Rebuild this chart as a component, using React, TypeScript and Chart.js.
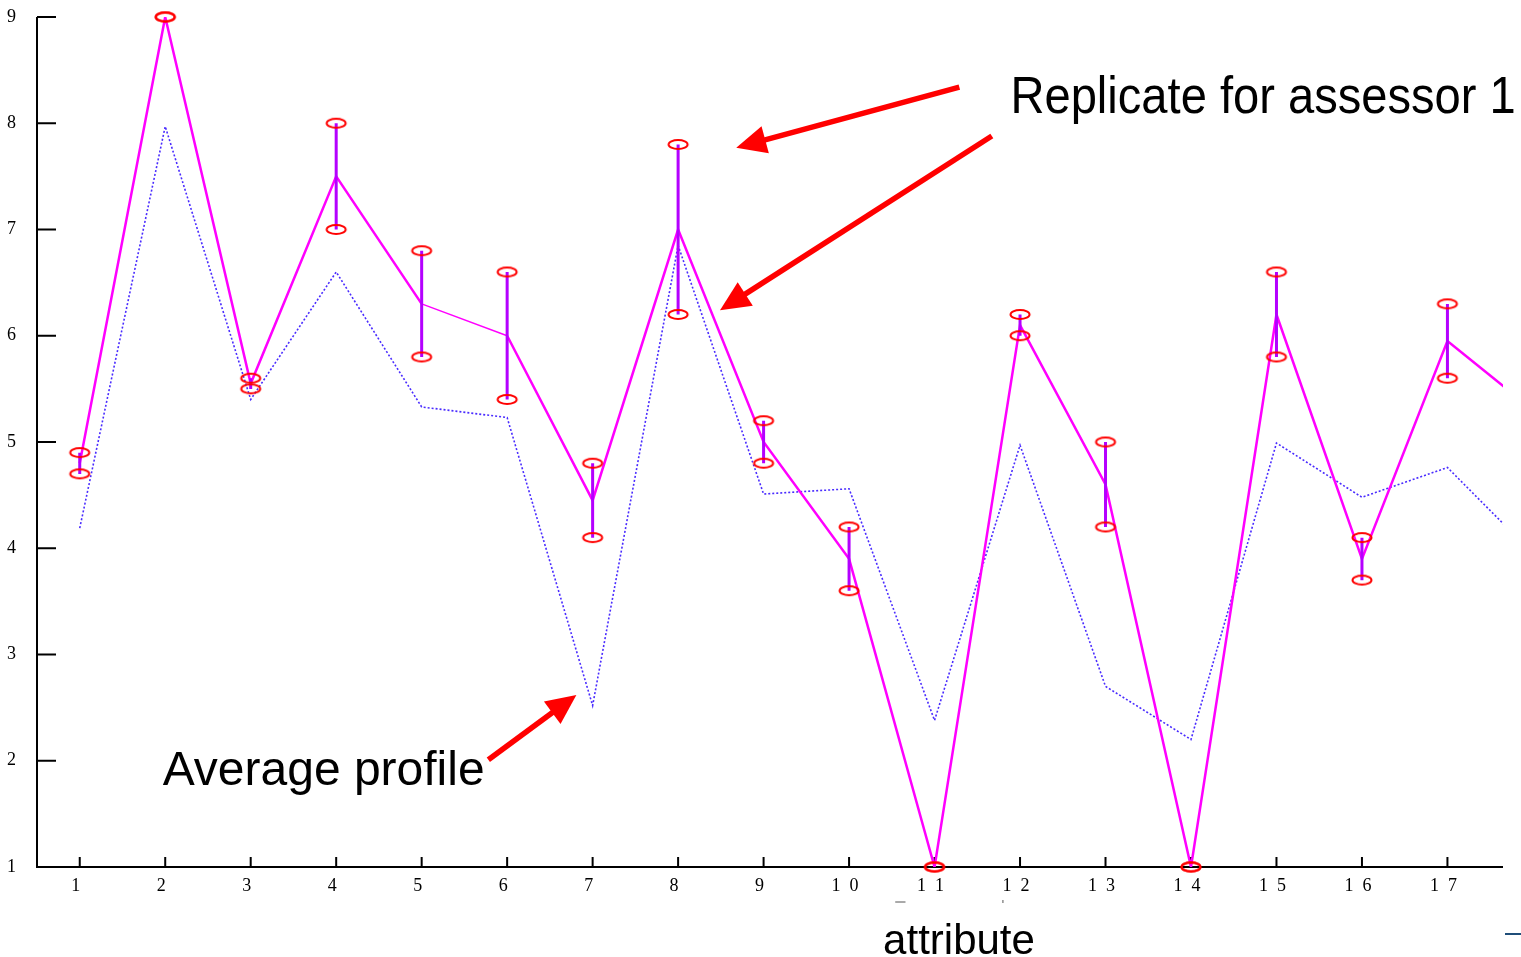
import React, { useEffect, useRef } from "react";
import { Chart, registerables } from "chart.js";

Chart.register(...registerables);

// ---- data ----
const attributes = [1, 2, 3, 4, 5, 6, 7, 8, 9, 10, 11, 12, 13, 14, 15, 16, 17];
const tickLabels = ["1", "2", "3", "4", "5", "6", "7", "8", "9", "1  0", "1  1", "1  2", "1  3", "1  4", "1  5", "1  6", "1  7"];
const yTickValues = [1, 2, 3, 4, 5, 6, 7, 8, 9];
// profile lines continue to an 18th attribute that lies beyond the visible right edge
const lineX = [1, 2, 3, 4, 5, 6, 7, 8, 9, 10, 11, 12, 13, 14, 15, 16, 17, 18];
const assessorMean = [4.8, 9, 5.55, 7.5, 6.3, 6.0, 4.45, 7.0, 5.0, 3.9, 1, 6.1, 4.6, 1, 6.2, 3.9, 5.95, 5.3];
const averageProfile = [4.19, 7.97, 5.4, 6.6, 5.33, 5.23, 2.52, 6.85, 4.51, 4.56, 2.38, 4.97, 2.7, 2.2, 4.99, 4.48, 4.76, 3.95];
const replicateHigh = [4.9, 9, 5.6, 8.0, 6.8, 6.6, 4.8, 7.8, 5.2, 4.2, 1, 6.2, 5.0, 1, 6.6, 4.1, 6.3];
const replicateLow = [4.7, 9, 5.5, 7.0, 5.8, 5.4, 4.1, 6.2, 4.8, 3.6, 1, 6.0, 4.2, 1, 5.8, 3.7, 5.6];
const xRange = [0.5, 17.65];
const yRange = [1, 9];

// annotation anchors in data coordinates: [tailX, tailY, tipX, tipY]
const arrowAnchors = [
  [11.29, 8.34, 8.68, 7.77],
  [11.67, 7.88, 8.49, 6.24],
  [5.78, 2.01, 6.81, 2.62],
];
const replicateLabel = { text: "Replicate for assessor 1", x: 11.93, y: 8.1 };
const averageLabel = { text: "Average profile", x: 1.97, y: 1.77 };
const axisTitle = { text: "attribute", x: 10.41 };

function makeEllipse(): HTMLCanvasElement {
  const c = document.createElement("canvas");
  c.width = 24;
  c.height = 13;
  const g = c.getContext("2d")!;
  g.strokeStyle = "#ff0000";
  g.lineWidth = 2;
  g.beginPath();
  g.ellipse(12, 6.5, 9.5, 4.5, 0, 0, Math.PI * 2);
  g.stroke();
  return c;
}

function drawArrow(ctx: CanvasRenderingContext2D, x1: number, y1: number, x2: number, y2: number) {
  const a = Math.atan2(y2 - y1, x2 - x1);
  const hl = 30;
  const hw = 14;
  const c = Math.cos(a);
  const s = Math.sin(a);
  const bx = x2 - hl * c;
  const by = y2 - hl * s;
  ctx.strokeStyle = "#ff0000";
  ctx.fillStyle = "#ff0000";
  ctx.lineWidth = 5.5;
  ctx.lineCap = "butt";
  ctx.beginPath();
  ctx.moveTo(x1, y1);
  ctx.lineTo(bx + 2 * c, by + 2 * s);
  ctx.stroke();
  ctx.beginPath();
  ctx.moveTo(x2, y2);
  ctx.lineTo(bx - hw * s, by + hw * c);
  ctx.lineTo(bx + hw * s, by - hw * c);
  ctx.closePath();
  ctx.fill();
}

function drawText(ctx: CanvasRenderingContext2D, text: string, size: number, inkLeft: number, baseline: number, inkWidth?: number) {
  ctx.save();
  ctx.font = `${size}px "Liberation Sans", Arial, Helvetica, sans-serif`;
  ctx.fillStyle = "#000";
  ctx.textAlign = "left";
  ctx.textBaseline = "alphabetic";
  const m = ctx.measureText(text);
  const w = m.actualBoundingBoxLeft + m.actualBoundingBoxRight;
  const sc = inkWidth ? inkWidth / w : 1;
  ctx.translate(inkLeft, baseline);
  ctx.scale(sc, 1);
  ctx.fillText(text, m.actualBoundingBoxLeft, 0);
  ctx.restore();
}

const overlayPlugin = {
  id: "overlay",
  beforeDatasetsDraw(chart: any) {
    const { ctx, chartArea, scales } = chart;
    const { left, right, top, bottom } = chartArea;
    ctx.save();
    ctx.strokeStyle = "#000";
    ctx.lineWidth = 2;
    ctx.lineCap = "butt";
    ctx.beginPath();
    ctx.moveTo(left, top);
    ctx.lineTo(left, bottom);
    ctx.lineTo(right, bottom);
    ctx.stroke();
    ctx.beginPath();
    for (const v of yTickValues) {
      const py = scales.y.getPixelForValue(v);
      ctx.moveTo(left, py);
      ctx.lineTo(left + 19, py);
    }
    for (const v of attributes) {
      const px = scales.x.getPixelForValue(v);
      ctx.moveTo(px, bottom);
      ctx.lineTo(px, bottom - 10);
    }
    ctx.stroke();
    ctx.restore();
  },
  afterDraw(chart: any) {
    const { ctx, scales, width, height } = chart;
    const X = (v: number) => scales.x.getPixelForValue(v);
    const Y = (v: number) => scales.y.getPixelForValue(v);
    ctx.save();
    for (const [tx, ty, hx, hy] of arrowAnchors) {
      drawArrow(ctx, X(tx), Y(ty), X(hx), Y(hy));
    }
    ctx.restore();
    drawText(ctx, replicateLabel.text, 52, X(replicateLabel.x), Y(replicateLabel.y), 500);
    drawText(ctx, averageLabel.text, 48, X(averageLabel.x), Y(averageLabel.y));
    drawText(ctx, axisTitle.text, 42, X(axisTitle.x), height - 3);
    // small decorative remnants
    ctx.save();
    ctx.strokeStyle = "#1f4e79";
    ctx.lineWidth = 2;
    ctx.beginPath();
    ctx.moveTo(width - 16, 934);
    ctx.lineTo(width, 934);
    ctx.stroke();
    ctx.strokeStyle = "#555";
    ctx.lineWidth = 1;
    ctx.beginPath();
    ctx.moveTo(X(10.54), 902);
    ctx.lineTo(X(10.66), 902);
    ctx.moveTo(X(11.8), 900);
    ctx.lineTo(X(11.8), 903);
    ctx.stroke();
    ctx.restore();
  },
};

export default function App() {
  const ref = useRef<HTMLCanvasElement>(null);

  useEffect(() => {
    document.body.style.margin = "0";
    const canvas = ref.current;
    if (!canvas) return;

    const ellipse = makeEllipse();
    const circlePts = [
      ...attributes.map((x, i) => ({ x, y: replicateHigh[i] })),
      ...attributes.map((x, i) => ({ x, y: replicateLow[i] })),
    ];
    const rangePts: { x: number; y: number | null }[] = [];
    attributes.forEach((x, i) => {
      rangePts.push({ x, y: replicateHigh[i] });
      rangePts.push({ x, y: replicateLow[i] });
      rangePts.push({ x, y: null });
    });
    const meanPts = lineX.map((x, i) => ({ x, y: assessorMean[i] }));
    const avgPts = lineX.map((x, i) => ({ x, y: averageProfile[i] }));

    const serif = '"Liberation Serif", "Times New Roman", Times, serif';

    const chart = new Chart(canvas, {
      type: "line",
      data: {
        datasets: [
          {
            label: "Replicates",
            data: circlePts,
            showLine: false,
            pointStyle: ellipse as any,
            pointRadius: 6,
            pointHoverRadius: 6,
            clip: false as any,
          },
          {
            label: "Replicate range",
            data: rangePts as any,
            borderColor: "#b400ff",
            borderWidth: 3,
            pointRadius: 0,
            spanGaps: false,
            borderCapStyle: "butt",
          },
          {
            label: "Assessor 1",
            data: meanPts,
            borderColor: "#ff00ff",
            borderWidth: 2.5,
            pointRadius: 0,
            tension: 0,
            segment: {
              borderWidth: (c: any) => (c.p0DataIndex === 4 ? 1.4 : 2.5),
            },
          },
          {
            label: "Average profile",
            data: avgPts,
            borderColor: "#4a2cff",
            borderWidth: 1.6,
            borderDash: [2, 2],
            pointRadius: 0,
            tension: 0,
          },
        ],
      },
      options: {
        animation: false,
        responsive: false,
        devicePixelRatio: 1,
        events: [],
        layout: { autoPadding: false, padding: { top: 17, right: 18, left: 0, bottom: 0 } },
        plugins: { legend: { display: false }, tooltip: { enabled: false } },
        scales: {
          x: {
            type: "linear",
            min: xRange[0],
            max: xRange[1],
            grid: { display: false, drawTicks: false },
            border: { display: false },
            afterBuildTicks: (s: any) => {
              s.ticks = attributes.map((v) => ({ value: v }));
            },
            afterFit: (s: any) => {
              s.height = 90;
              s.paddingLeft = 0;
              s.paddingRight = 0;
            },
            ticks: {
              autoSkip: false,
              maxRotation: 0,
              padding: 8,
              labelOffset: -4,
              color: "#000",
              font: { family: serif, size: 18 },
              callback: (v: any) => {
                const i = attributes.indexOf(Number(v));
                return i >= 0 ? tickLabels[i] : "";
              },
            },
          },
          y: {
            type: "linear",
            min: yRange[0],
            max: yRange[1],
            grid: { display: false, drawTicks: false },
            border: { display: false },
            afterBuildTicks: (s: any) => {
              s.ticks = yTickValues.map((v) => ({ value: v }));
            },
            afterFit: (s: any) => {
              s.width = 37;
              s.paddingTop = 0;
              s.paddingBottom = 0;
            },
            ticks: {
              padding: 21,
              color: "#000",
              font: { family: serif, size: 18 },
              callback: (v: any) => String(v),
            },
          },
        },
      },
      plugins: [overlayPlugin],
    });

    return () => chart.destroy();
  }, []);

  return (
    <div style={{ width: 1521, height: 957, background: "#fff" }}>
      <canvas ref={ref} width={1521} height={957} style={{ display: "block" }} />
    </div>
  );
}
